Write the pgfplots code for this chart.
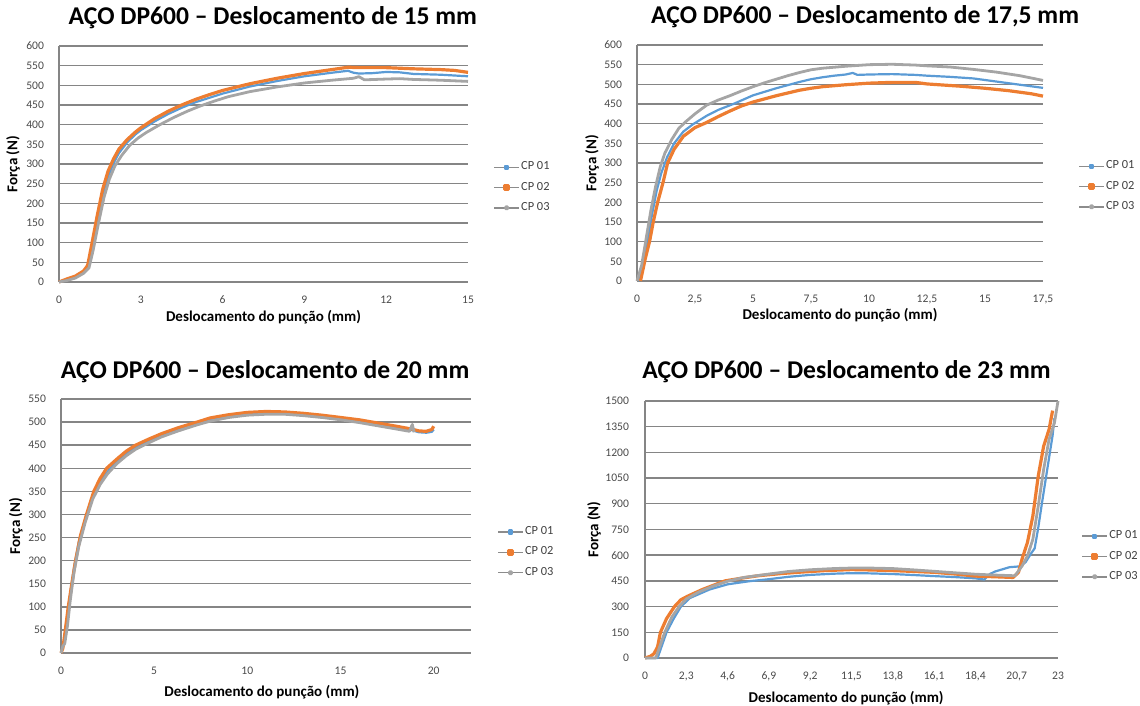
\documentclass[border=0pt]{standalone}
\usepackage{fontspec}
\setmainfont{Carlito}
\usepackage{pgfplots}
\pgfplotsset{compat=1.18}
\definecolor{cpblue}{HTML}{5B9BD5}
\definecolor{cporange}{HTML}{ED7D31}
\definecolor{cpgray}{HTML}{A5A5A5}
\definecolor{gridc}{HTML}{858585}
\definecolor{tickc}{HTML}{4A4A4A}
\definecolor{legc}{HTML}{404040}
\definecolor{leglinec}{HTML}{8C8C8C}
\pgfplotsset{
  dpbase/.style={
    scale only axis, anchor=south west, clip=false,
    axis lines=left,
    every axis title shift=0pt,
    axis line style={-, draw=gridc, line width=0.7pt},
    ymajorgrids, grid style={draw=gridc, line width=0.7pt},
    major tick length=0pt, tick style={draw=none},
    ticklabel style={font=\fontsize{5.8}{6}\selectfont, text=tickc},
    xticklabel style={yshift=-3.5pt},
    yticklabel style={xshift=-4pt},
    /pgf/number format/assume math mode=true,
    /pgf/number format/1000 sep={},
    title style={font=\fontsize{12.8}{14}\selectfont\bfseries, anchor=center},
    label style={font=\fontsize{7.5}{9}\selectfont\bfseries, anchor=center},
    xlabel={Deslocamento do punção (mm)},
    ylabel={Força (N)},
    legend style={draw=none, fill=none, anchor=west, inner sep=0pt,
      font=\fontsize{6.2}{7}\selectfont, text=legc, row sep=3.4pt,
      nodes={inner sep=0.6pt}},
    legend cell align=left,
  },
  sblue/.style={cpblue, line width=1.1pt, line join=round,
    legend image code/.code={\draw[leglinec, line width=0.8pt] (0pt,0pt) -- (12.5pt,0pt);
      \fill[cpblue] (5.5pt,-0.8pt) rectangle (7pt,0.8pt);}},
  sorange/.style={cporange, line width=1.6pt, line join=round,
    legend image code/.code={\draw[leglinec, line width=0.8pt] (0pt,0pt) -- (12.5pt,0pt);
      \fill[cporange] (5.3pt,-1pt) rectangle (7.2pt,1pt);}},
  sgray/.style={cpgray, line width=1.4pt, line join=round,
    legend image code/.code={\draw[leglinec, line width=0.8pt] (0pt,0pt) -- (12.5pt,0pt);
      \fill[cpgray] (6.25pt,0pt) circle (0.7pt);}},
}
\begin{document}
\begin{tikzpicture}
\path[use as bounding box] (0pt,0pt) rectangle (570pt,353pt);

% ---------------- Panel 1 ----------------
\begin{axis}[dpbase, at={(29.5pt,212pt)}, width=204.5pt, height=118pt,
  xmin=0, xmax=15, ymin=0, ymax=600,
  xtick={0,3,6,9,12,15}, ytick={0,50,...,600},
  title={AÇO DP600 – Deslocamento de 15 mm},
  title style={at={(0.523,1.119)}},
  xlabel style={at={(axis description cs:0.5,-0.148)}},
  ylabel style={at={(axis description cs:-0.1125,0.5)}},
  legend style={at={(1.061,0.40)}}]
\addplot[sblue] coordinates {(0,0) (0.3,7) (0.6,14) (0.9,25) (1.05,38) (1.2,80) (1.4,150) (1.6,218) (1.8,268) (2.0,302) (2.2,328) (2.5,355) (2.8,375) (3.0,386) (3.5,408) (4.0,427) (4.5,443) (5.0,457) (5.5,468) (6.0,479) (7.0,497) (8.0,511) (9.0,523) (10.0,532) (10.6,537) (10.8,532) (11.0,530) (11.5,531) (12.0,534) (12.5,533) (13.0,529) (14.0,527) (15.0,523)};
\addlegendentry{CP 01}
\addplot[sorange] coordinates {(0,0) (0.3,8) (0.6,15) (0.9,28) (1.05,42) (1.2,95) (1.4,168) (1.6,235) (1.8,282) (2.0,313) (2.2,338) (2.5,362) (2.8,381) (3.0,392) (3.5,415) (4.0,434) (4.5,450) (5.0,464) (5.5,476) (6.0,487) (7.0,504) (8.0,518) (9.0,530) (10.0,540) (10.6,546) (11.0,545) (12.0,545) (13.0,542) (14.0,540) (14.5,538) (15.0,533)};
\addlegendentry{CP 02}
\addplot[sgray] coordinates {(0,0) (0.3,4) (0.6,10) (0.9,22) (1.1,36) (1.25,80) (1.45,150) (1.65,215) (1.85,262) (2.05,295) (2.3,322) (2.6,348) (2.9,366) (3.2,380) (3.7,400) (4.2,418) (4.7,434) (5.2,448) (5.7,460) (6.2,471) (7.0,484) (8.0,496) (9.0,506) (10.0,513) (10.8,518) (11.0,522) (11.2,514) (12.0,516) (12.5,517) (13.0,515) (14.0,513) (15.0,510)};
\addlegendentry{CP 03}
\end{axis}

% ---------------- Panel 2 ----------------
\begin{axis}[dpbase, at={(318.5pt,212.5pt)}, width=203pt, height=118pt,
  xmin=0, xmax=17.5, ymin=0, ymax=600,
  xtick={0,2.5,5,7.5,10,12.5,15,17.5}, ytick={0,50,...,600},
  xticklabel style={/pgf/number format/.cd, use comma, fixed, precision=1},
  title={AÇO DP600 – Deslocamento de 17,5 mm},
  title style={at={(0.562,1.119)}},
  xlabel style={at={(axis description cs:0.5,-0.144)}},
  ylabel style={at={(axis description cs:-0.111,0.5)}},
  legend style={at={(1.086,0.40)}}]
\addplot[sblue] coordinates {(0.05,0) (0.25,40) (0.45,100) (0.65,170) (0.85,230) (1.05,275) (1.3,315) (1.6,350) (2.0,380) (2.4,398) (3.0,420) (3.5,435) (4.15,450) (5.0,472) (5.5,481) (6.0,490) (6.5,498) (7.0,506) (7.5,513) (8.0,518) (8.5,522) (9.0,525) (9.3,529) (9.5,524) (10.0,525) (11.0,526) (12.0,524) (12.5,522) (13.5,519) (14.5,515) (15.0,511) (16.0,503) (17.0,495) (17.5,491)};
\addlegendentry{CP 01}
\addplot[sorange] coordinates {(0.15,0) (0.35,55) (0.54,100) (0.7,150) (0.89,200) (1.12,250) (1.32,300) (1.6,335) (2.0,368) (2.5,390) (3.0,403) (3.5,418) (4.0,432) (4.5,445) (5.0,455) (5.5,463) (6.0,471) (6.5,478) (7.0,485) (7.5,490) (8.0,494) (9.0,499) (10.0,503) (11.0,505) (12.0,505) (12.5,501) (13.0,499) (14.0,495) (15.0,490) (16.0,484) (17.0,476) (17.5,470)};
\addlegendentry{CP 02}
\addplot[sgray] coordinates {(0,0) (0.2,40) (0.4,110) (0.6,180) (0.8,240) (1.0,290) (1.2,325) (1.5,360) (1.8,388) (2.1,405) (2.5,425) (3.0,447) (3.5,460) (4.0,471) (4.5,483) (5.0,494) (5.5,504) (6.0,513) (6.5,522) (7.0,530) (7.5,537) (8.0,541) (9.0,546) (10.0,550) (11.0,551) (12.0,549) (12.5,547) (13.5,544) (14.5,538) (15.5,531) (16.5,522) (17.5,510)};
\addlegendentry{CP 03}
\end{axis}

% ---------------- Panel 3 ----------------
\begin{axis}[dpbase, at={(30.5pt,26.5pt)}, width=205pt, height=127pt,
  xmin=0, xmax=22, ymin=0, ymax=550,
  xtick={0,5,10,15,20}, ytick={0,50,...,550},
  title={AÇO DP600 – Deslocamento de 20 mm},
  title style={at={(0.498,1.106)}},
  xlabel style={at={(axis description cs:0.49,-0.154)}},
  ylabel style={at={(axis description cs:-0.11,0.5)}},
  legend style={at={(1.063,0.396)}}]
\addplot[sblue] coordinates {(0,0) (0.15,20) (0.3,70) (0.5,130) (0.7,185) (0.95,240) (1.3,290) (1.7,340) (2.1,370) (2.5,393) (3.0,414) (3.5,431) (4.0,445) (4.7,459) (5.4,471) (6.3,484) (7.3,496) (8.0,505) (9.0,512) (10.0,517) (11.0,519) (12.0,518) (13.0,516) (14.0,512) (15.0,507) (16.0,502) (17.0,496) (18.0,489) (18.8,483) (19.2,478) (19.6,477) (19.9,479) (20.0,484)};
\addlegendentry{CP 01}
\addplot[sorange] coordinates {(0,0) (0.1,10) (0.2,40) (0.39,100) (0.58,150) (0.78,200) (1.05,255) (1.37,300) (1.76,350) (2.1,378) (2.45,400) (3.0,420) (3.5,437) (4.0,450) (4.7,463) (5.4,475) (6.3,488) (7.3,500) (8.0,509) (9.0,516) (10.0,521) (11.0,523) (12.0,522) (13.0,519) (14.0,515) (15.0,510) (16.0,505) (17.0,498) (18.0,491) (18.8,485) (19.2,481) (19.6,480) (19.9,484) (20.0,491)};
\addlegendentry{CP 02}
\addplot[sgray] coordinates {(0,0) (0.1,15) (0.2,20) (0.35,60) (0.5,115) (0.7,175) (0.95,230) (1.3,283) (1.7,333) (2.1,365) (2.5,388) (3.0,410) (3.5,427) (4.0,441) (4.7,455) (5.4,468) (6.3,481) (7.3,494) (8.0,502) (9.0,510) (10.0,515) (11.0,517) (12.0,517) (13.0,514) (14.0,510) (15.0,505) (16.0,499) (17.0,492) (18.0,485) (18.7,480) (18.85,495) (18.95,478)};
\addlegendentry{CP 03}
\end{axis}

% ---------------- Panel 4 ----------------
\begin{axis}[dpbase, at={(322.5pt,24pt)}, width=206.5pt, height=128.5pt,
  xmin=0, xmax=23, ymin=0, ymax=1500,
  xtick={0,2.3,4.6,6.9,9.2,11.5,13.8,16.1,18.4,20.7,23}, ytick={0,150,...,1500},
  xticklabel style={/pgf/number format/.cd, use comma, fixed, precision=1},
  yticklabel style={xshift=-0.5pt},
  title={AÇO DP600 – Deslocamento de 23 mm},
  title style={at={(0.488,1.113)}},
  xlabel style={at={(axis description cs:0.487,-0.156)}},
  ylabel style={at={(axis description cs:-0.1235,0.5)}},
  legend style={at={(1.056,0.395)}}]
\addplot[sblue] coordinates {(0,0) (0.7,0) (0.9,60) (1.2,150) (1.6,230) (2.0,300) (2.5,350) (3.6,400) (4.6,430) (5.8,448) (6.9,460) (8.0,474) (9.2,485) (10.5,492) (11.5,495) (12.5,494) (13.8,490) (15.0,484) (16.1,478) (17.3,472) (18.4,465) (18.9,458) (19.2,490) (19.5,505) (20.3,530) (20.9,535) (21.2,560) (21.5,610) (21.7,640) (21.9,760) (22.1,900) (22.4,1100) (22.7,1300) (22.8,1400)};
\addlegendentry{CP 01}
\addplot[sorange] coordinates {(0,0) (0.3,10) (0.5,25) (0.7,65) (0.86,150) (1.2,230) (1.64,300) (2.0,340) (2.36,360) (3.2,400) (4.45,450) (5.5,468) (6.3,480) (7.5,492) (8.5,500) (10.0,510) (11.5,516) (12.5,514) (13.8,510) (15.0,505) (16.1,500) (17.3,490) (18.4,478) (19.5,474) (20.5,470) (20.8,500) (21.0,578) (21.3,675) (21.6,829) (21.9,1062) (22.2,1236) (22.5,1333) (22.7,1444)};
\addlegendentry{CP 02}
\addplot[sgray] coordinates {(0,0) (0.6,0) (0.8,60) (1.1,150) (1.5,240) (1.9,300) (2.3,345) (3.0,385) (3.8,420) (4.6,448) (5.5,470) (6.9,490) (8.0,505) (9.2,515) (10.5,522) (11.5,525) (12.5,525) (13.8,522) (15.0,514) (16.1,506) (17.3,497) (18.4,489) (19.5,484) (20.6,480) (21.0,537) (21.3,596) (21.6,693) (21.9,887) (22.2,1100) (22.5,1275) (22.8,1372) (23.0,1500)};
\addlegendentry{CP 03}
\end{axis}
\end{tikzpicture}
\end{document}
